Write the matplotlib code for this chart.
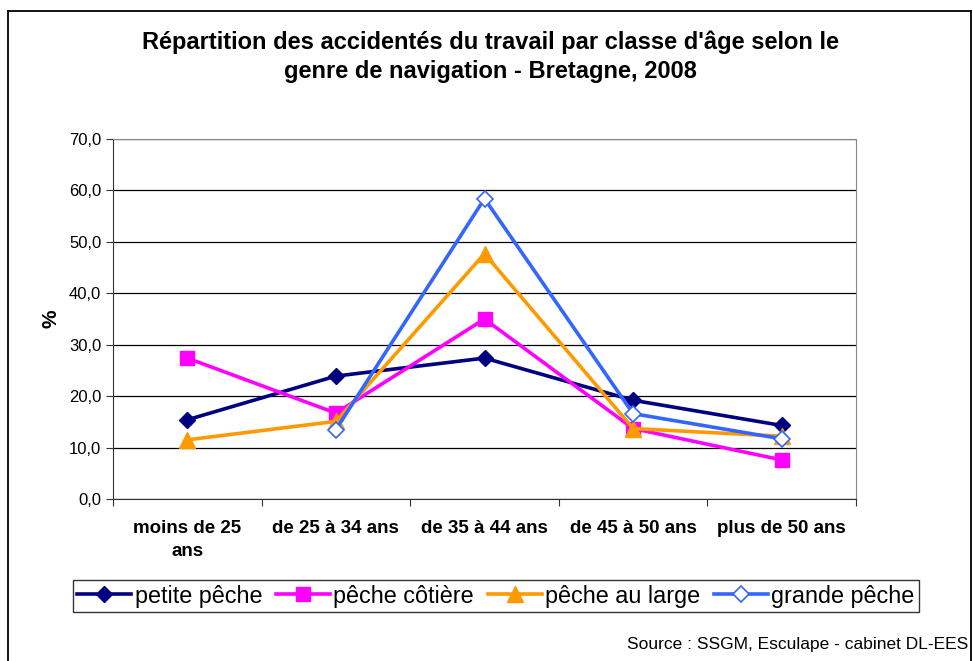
import matplotlib
matplotlib.use("Agg")
import matplotlib.pyplot as plt
import matplotlib.lines as mlines
import numpy as np

plt.rcParams["font.family"] = ["Liberation Sans", "DejaVu Sans"]

# ---------------------------------------------------------------------------
# Data
# ---------------------------------------------------------------------------
categories = ["moins de 25\nans", "de 25 à 34 ans", "de 35 à 44 ans",
              "de 45 à 50 ans", "plus de 50 ans"]
petite_peche = [15.4, 23.9, 27.4, 19.2, 14.3]
peche_cotiere = [27.4, 16.7, 35.0, 13.7, 7.6]
peche_large = [11.5, 15.1, 47.7, 13.7, 12.2]
grande_peche = [np.nan, 13.5, 58.4, 16.6, 11.7]

title = ("Répartition des accidentés du travail par classe d'âge selon le\n"
         "genre de navigation - Bretagne, 2008")
source = "Source : SSGM, Esculape - cabinet DL-EES"

# ---------------------------------------------------------------------------
# Plot
# ---------------------------------------------------------------------------
W, H = 973, 661
fig = plt.figure(figsize=(W / 100, H / 100), dpi=100)
ax = fig.add_axes([113 / W, 1 - 499 / H, (856 - 113) / W, (499 - 139) / H])

x = np.arange(len(categories))
ax.plot(x, petite_peche, color="#000080", lw=2.6, marker="D", ms=8,
        label="petite pêche", zorder=3)
ax.plot(x, peche_cotiere, color="#FF00FF", lw=2.6, marker="s", ms=10,
        label="pêche côtière", zorder=3)
ax.plot(x, peche_large, color="#FF9900", lw=2.6, marker="^", ms=11,
        label="pêche au large", zorder=3)
ax.plot(x, grande_peche, color="#3366FF", lw=2.6, marker="D", ms=8,
        mfc="white", mec="#3366FF", mew=1.2, label="grande pêche", zorder=4)

ax.set_xlim(-0.5, len(categories) - 0.5)
ax.set_ylim(0, 70)
ax.set_yticks(np.arange(0, 71, 10))
ax.set_yticklabels([f"{v:.1f}".replace(".", ",") for v in range(0, 71, 10)],
                   fontsize=12)
ax.yaxis.grid(True, color="black", lw=0.9)
ax.set_axisbelow(True)

# category labels between boundary tick marks
ax.set_xticks(np.arange(-0.5, len(categories), 1.0))
ax.set_xticklabels([])
ax.set_xticks(x, minor=True)
ax.set_xticklabels(categories, minor=True, fontsize=13.5, fontweight="bold",
                   va="top", linespacing=1.45)
ax.tick_params(axis="x", which="minor", length=0, pad=15)
ax.tick_params(axis="x", which="major", length=5, color="#333333")
ax.tick_params(axis="y", length=5, color="#333333")

for side in ["top", "right"]:
    ax.spines[side].set_color("#888888")
ax.spines["left"].set_color("#333333")
ax.spines["bottom"].set_color("#333333")

ax.set_ylabel("%", fontsize=15, fontweight="bold", labelpad=6)

fig.text(490 / W, 1 - 57 / H, title, ha="center", va="center",
         fontsize=17, fontweight="bold", linespacing=1.35)

leg = fig.legend(loc="center", bbox_to_anchor=(496 / W, 1 - 596 / H),
                 ncol=4, fontsize=16.8, frameon=True, fancybox=False,
                 edgecolor="black", handlelength=2.3, handletextpad=0.15,
                 columnspacing=0.6, borderpad=0.2, borderaxespad=0)
leg.get_frame().set_linewidth(1.0)

fig.text(968 / W, 1 - 645 / H, source, ha="right", va="center", fontsize=12.5)

# chart frame: top, left and right edges (bottom is cropped in the reference)
for xs, ys in [((8, 971), (11, 11)), ((8, 8), (11, 661)), ((971, 971), (11, 661))]:
    fig.add_artist(mlines.Line2D([v / W for v in xs], [1 - v / H for v in ys],
                                 transform=fig.transFigure, color="black",
                                 lw=1.3))

fig.savefig("out.png", dpi=100)
